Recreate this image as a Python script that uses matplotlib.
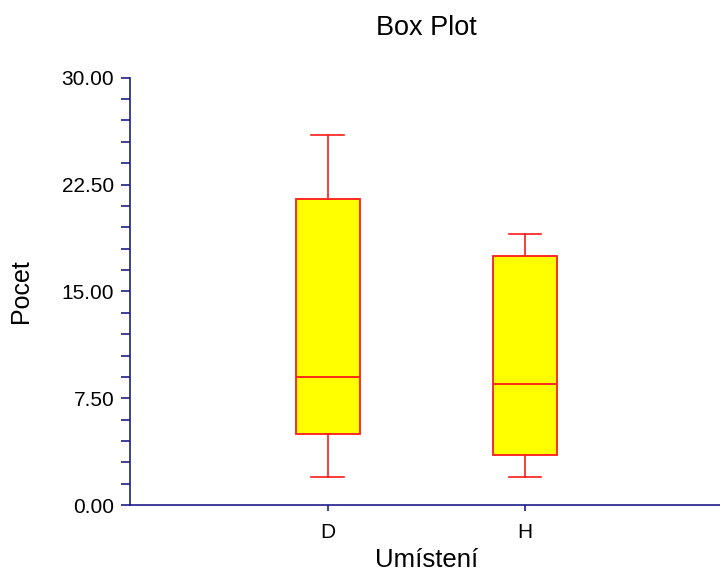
import matplotlib.pyplot as plt
from matplotlib.ticker import MultipleLocator, FormatStrFormatter

plt.rcParams['font.family'] = ['Liberation Sans', 'DejaVu Sans']

# Five-number summaries per group
groups = ['D', 'H']
whislo = [2.0, 2.0]
q1 = [5.0, 3.5]
med = [9.0, 8.5]
q3 = [21.5, 17.5]
whishi = [26.0, 19.0]

stats = []
for i, g in enumerate(groups):
    stats.append({'label': g, 'whislo': whislo[i], 'q1': q1[i], 'med': med[i],
                  'q3': q3[i], 'whishi': whishi[i], 'fliers': []})

fig = plt.figure(figsize=(7.2, 5.76), dpi=100)
ax = fig.add_axes([0.181, 0.123, 0.822, 0.742])

red = '#ff1a1a'
ax.bxp(stats, positions=[1, 2], widths=0.325, patch_artist=True,
       showfliers=False,
       boxprops=dict(facecolor='yellow', edgecolor=red, linewidth=1.3),
       medianprops=dict(color=red, linewidth=1.3),
       whiskerprops=dict(color=red, linewidth=1.2),
       capprops=dict(color=red, linewidth=1.2),
       capwidths=0.165)

ax.set_xlim(0, 3)
ax.set_ylim(0, 30)
ax.yaxis.set_major_locator(MultipleLocator(7.5))
ax.yaxis.set_minor_locator(MultipleLocator(1.5))
ax.yaxis.set_major_formatter(FormatStrFormatter('%.2f'))
ax.set_xticks([1, 2])
ax.set_xticklabels(groups)

axis_col = '#1c1c8c'
for side in ['top', 'right']:
    ax.spines[side].set_visible(False)
for side in ['left', 'bottom']:
    ax.spines[side].set_color(axis_col)
    ax.spines[side].set_linewidth(1.2)

ax.tick_params(axis='y', which='both', direction='out', length=6.5,
               color=axis_col, width=1.2, labelsize=15, pad=5)
ax.tick_params(axis='x', which='both', direction='out', length=4,
               color=axis_col, width=1.2, labelsize=15, pad=9)

ax.set_title('Box Plot', fontsize=19.5, pad=31)
ax.set_ylabel('Pocet', fontsize=18, labelpad=21)
ax.set_xlabel('Umístení', fontsize=18.5, labelpad=4)

fig.savefig('out.png', dpi=100)
